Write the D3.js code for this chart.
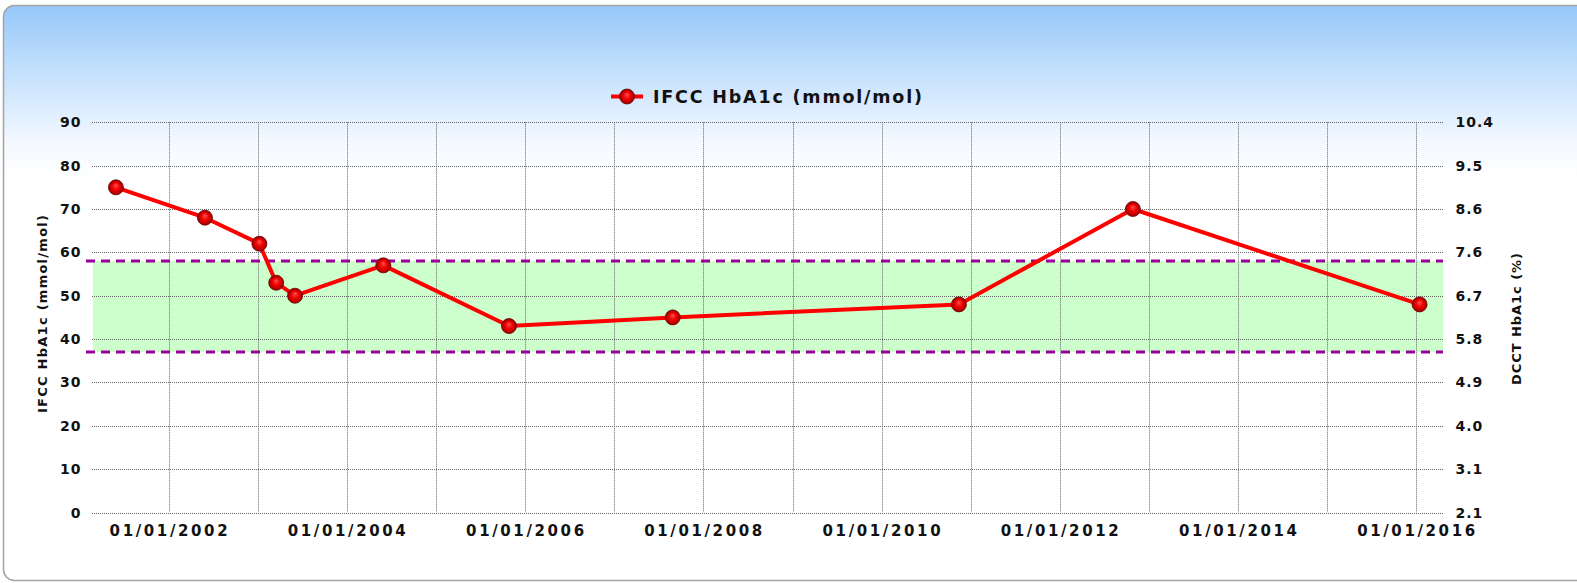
<!DOCTYPE html>
<html>
<head>
<meta charset="utf-8">
<script src="https://cdn.jsdelivr.net/npm/d3@7"></script>
<style>
  html, body { margin: 0; padding: 0; background: #fff; overflow: hidden; }
  svg { display: block; font-family: "DejaVu Sans", Verdana, sans-serif; font-weight: bold; }
</style>
</head>
<body>
<div id="chart"></div>
<script>
// readings (dates approximate)
const dates = ["2001-05-30", "2002-05-30", "2003-01-08", "2003-03-18", "2003-06-03",
  "2004-05-30", "2005-10-27", "2007-08-29", "2010-11-14", "2012-10-27", "2016-01-15"];
const ifcc = [75, 68, 62, 53, 50, 57, 43, 45, 48, 70, 48];

const yTicks = [0, 10, 20, 30, 40, 50, 60, 70, 80, 90];
const dcctLabels = ["2.1", "3.1", "4.0", "4.9", "5.8", "6.7", "7.6", "8.6", "9.5", "10.4"];
const xLabelYears = [2002, 2004, 2006, 2008, 2010, 2012, 2014, 2016];
const gridYears = d3.range(2002, 2017);
const targetRange = [37, 58];

const seriesName = "IFCC HbA1c (mmol/mol)";
const leftTitle = "IFCC HbA1c (mmol/mol)";
const rightTitle = "DCCT HbA1c (%)";

const W = 1577, H = 583;
const plot = { left: 92, right: 1443, top: 122.3, bottom: 512.5 };

const svg = d3.select('#chart').append('svg')
  .attr('width', W).attr('height', H);

const defs = svg.append('defs');
const bg = defs.append('linearGradient').attr('id', 'bg')
  .attr('x1', 0).attr('y1', 0).attr('x2', 0).attr('y2', 1);
bg.append('stop').attr('offset', 0).attr('stop-color', '#96c8fa');
bg.append('stop').attr('offset', 0.24).attr('stop-color', '#f4f9ff');
bg.append('stop').attr('offset', 0.3).attr('stop-color', '#ffffff');
bg.append('stop').attr('offset', 1).attr('stop-color', '#ffffff');

const ball = defs.append('radialGradient').attr('id', 'ball')
  .attr('cx', '50%').attr('cy', '55%').attr('r', '55%')
  .attr('fx', '50%').attr('fy', '35%');
ball.append('stop').attr('offset', 0).attr('stop-color', '#ff5050');
ball.append('stop').attr('offset', 0.45).attr('stop-color', '#ee0000');
ball.append('stop').attr('offset', 1).attr('stop-color', '#8a0000');

// frame
svg.append('rect')
  .attr('x', 3.5).attr('y', 5.5)
  .attr('width', 1620).attr('height', 575)
  .attr('rx', 11).attr('ry', 11)
  .attr('fill', 'url(#bg)')
  .attr('stroke', '#a3a3a3').attr('stroke-width', 1.5);

const parse = d3.timeParse('%Y-%m-%d');
const x = d3.scaleTime()
  .domain([parse('2001-02-21'), parse('2016-04-20')])
  .range([plot.left, plot.right]);
const y = d3.scaleLinear().domain([0, 90]).range([plot.bottom, plot.top]);

const pts = dates.map((d, i) => ({ date: parse(d), v: ifcc[i] }));

// target band
svg.append('rect')
  .attr('x', plot.left + 1).attr('width', plot.right - plot.left - 1)
  .attr('y', y(targetRange[1])).attr('height', y(targetRange[0]) - y(targetRange[1]))
  .attr('fill', '#ccffcc');

// horizontal grid
svg.append('g').selectAll('line').data(yTicks).join('line')
  .attr('x1', plot.left).attr('x2', plot.right)
  .attr('y1', d => Math.round(y(d)) + 0.5).attr('y2', d => Math.round(y(d)) + 0.5)
  .attr('stroke', '#666').attr('stroke-width', 1).attr('stroke-dasharray', '1,1');

// vertical grid
svg.append('g').selectAll('line').data(gridYears).join('line')
  .attr('x1', d => Math.round(x(new Date(d, 0, 1))) + 0.5)
  .attr('x2', d => Math.round(x(new Date(d, 0, 1))) + 0.5)
  .attr('y1', plot.top).attr('y2', plot.bottom)
  .attr('stroke', '#666').attr('stroke-width', 1).attr('stroke-dasharray', '1,1');

// target limits
svg.append('g').selectAll('line').data(targetRange).join('line')
  .attr('x1', 86).attr('x2', plot.right)
  .attr('y1', d => y(d)).attr('y2', d => y(d))
  .attr('stroke', '#990099').attr('stroke-width', 3).attr('stroke-dasharray', '9,6');

// left axis labels
svg.append('g').selectAll('text').data(yTicks).join('text')
  .attr('x', 81.5).attr('y', d => y(d))
  .attr('dy', '0.36em').attr('text-anchor', 'end')
  .attr('font-size', 14).attr('letter-spacing', 1)
  .attr('fill', '#111').text(d => d);

// right axis labels
svg.append('g').selectAll('text').data(yTicks).join('text')
  .attr('x', 1455.5).attr('y', d => y(d))
  .attr('dy', '0.36em').attr('text-anchor', 'start')
  .attr('font-size', 14).attr('letter-spacing', 1)
  .attr('fill', '#111').text((d, i) => dcctLabels[i]);

// x labels
const fmt = d3.timeFormat('%d/%m/%Y');
svg.append('g').selectAll('text').data(xLabelYears).join('text')
  .attr('x', d => x(new Date(d, 0, 1)) - 59).attr('y', 531)
  .attr('dy', '0.36em')
  .attr('font-size', 15)
  .attr('textLength', 118).attr('lengthAdjust', 'spacing')
  .attr('fill', '#111').text(d => fmt(new Date(d, 0, 1)));

// axis titles
svg.append('text')
  .attr('transform', 'translate(42.5,314) rotate(-90)')
  .attr('text-anchor', 'middle').attr('dy', '0.36em')
  .attr('font-size', 13).attr('fill', '#111')
  .attr('textLength', 198).attr('lengthAdjust', 'spacing')
  .text(leftTitle);
svg.append('text')
  .attr('transform', 'translate(1516,319) rotate(-90)')
  .attr('text-anchor', 'middle').attr('dy', '0.36em')
  .attr('font-size', 13).attr('fill', '#111')
  .attr('textLength', 132).attr('lengthAdjust', 'spacing')
  .text(rightTitle);

// series line
svg.append('path').datum(pts)
  .attr('fill', 'none').attr('stroke', '#ff0000')
  .attr('stroke-width', 4).attr('stroke-linejoin', 'round')
  .attr('d', d3.line().x(d => x(d.date)).y(d => y(d.v)));

svg.append('g').selectAll('circle').data(pts).join('circle')
  .attr('cx', d => x(d.date)).attr('cy', d => y(d.v)).attr('r', 7.5)
  .attr('fill', 'url(#ball)').attr('stroke', '#6a0000').attr('stroke-width', 0.8);

// legend
const lg = svg.append('g');
lg.append('line').attr('x1', 611).attr('x2', 643).attr('y1', 96.5).attr('y2', 96.5)
  .attr('stroke', '#ff0000').attr('stroke-width', 4);
lg.append('circle').attr('cx', 627).attr('cy', 96.5).attr('r', 7.5)
  .attr('fill', 'url(#ball)').attr('stroke', '#6a0000').attr('stroke-width', 0.8);
lg.append('text').attr('x', 653).attr('y', 97).attr('dy', '0.36em')
  .attr('font-size', 17.5).attr('fill', '#111')
  .attr('textLength', 269).attr('lengthAdjust', 'spacing')
  .text(seriesName);
</script>
</body>
</html>
